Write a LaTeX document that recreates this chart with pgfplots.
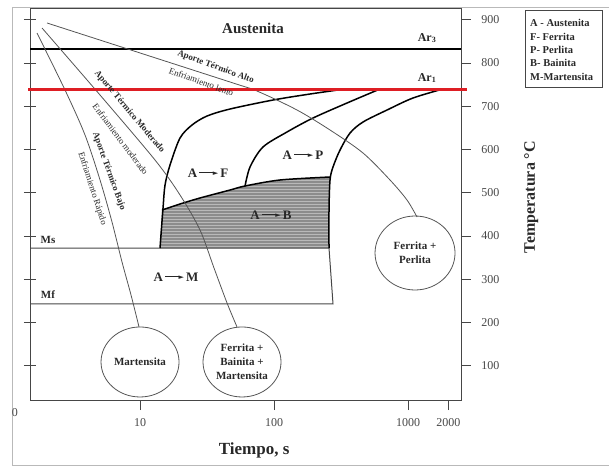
\documentclass[border=0pt]{standalone}
\usepackage{fontspec}
\setmainfont{Liberation Serif}
\newfontfamily\dejavu{DejaVu Sans}
\usepackage{pgfplots}
\pgfplotsset{compat=1.18}
\usetikzlibrary{patterns}
\definecolor{redline}{RGB}{222,30,36}
\definecolor{axgray}{RGB}{70,70,70}
\definecolor{thincol}{RGB}{85,85,85}
\definecolor{shadecol}{RGB}{140,140,140}
\definecolor{shadeln}{RGB}{185,185,185}
\definecolor{txt}{RGB}{40,40,40}
\newcommand{\arr}{\mbox{\rule[4pt]{15pt}{1.1pt}\kern-1.5pt\raisebox{1.6pt}{\dejavu\fontsize{7}{7}\selectfont ►}}}
\begin{document}
\begin{tikzpicture}
\draw[gray!55, line width=0.8pt] (609pt,459pt) -- (12pt,459pt) -- (12pt,1pt) -- (609pt,1pt);
% left-side ticks (no labels)
\begin{axis}[
 at={(30pt,66pt)}, anchor=south west,
 scale only axis, width=431pt, height=391pt,
 xmin=0, xmax=1, ymin=20.8, ymax=924.9,
 axis x line=none, axis y line*=left,
 ytick={100,200,...,900}, yticklabels={},
 tick align=center, major tick length=12pt,
 tick style={axgray, line width=0.8pt},
 axis line style={axgray, line width=1pt},
]
\end{axis}
\begin{axis}[
 at={(30pt,66pt)}, anchor=south west,
 scale only axis, width=431pt, height=391pt,
 xmode=log, xmin=1.51, xmax=2486, ymin=20.8, ymax=924.9,
 axis line style={axgray, line width=1pt},
 xtick={10,100,1000,2000}, xticklabels={10,100,1000,2000},
 ytick={100,200,...,900},
 xtick pos=bottom, ytick pos=right,
 tick align=outside, major tick length=10pt,
 tick style={axgray, line width=0.8pt},
 xminorticks=false,
 ticklabel style={font=\fontsize{12}{14}\selectfont, text=axgray},
 /pgf/number format/assume math mode=true,
 yticklabel style={anchor=west, xshift=7pt},
 xticklabel style={yshift=-5pt},
 clip=false,
 xlabel={Tiempo, s}, ylabel={Temperatura °C},
 xlabel style={at={(axis description cs:0.52,-0.128)}, anchor=center, font=\fontsize{17}{20}\selectfont\bfseries, text=txt},
 ylabel style={at={(axis description cs:1.163,0.519)}, anchor=center, font=\fontsize{16}{19}\selectfont\bfseries, text=txt},
]
% bainite region
\addplot[draw=none, fill=shadecol, postaction={pattern=horizontal lines, pattern color=shadeln}] coordinates {(14.10,372.2)(14.59,460.1)(19.89,474.0)(28.04,487.9)(46.95,506.3)(60.75,515.6)(110.9,529.5)(261.8,536.4)(257.3,460.1)(257.3,372.2)(14.10,372.2)};
% Ar3
\addplot[black, line width=1.2pt] coordinates {(1.51,832.4)(2486,832.4)};
% Ms-Mf box
\addplot[axgray, line width=1pt] coordinates {(1.51,372.2)(257.3,372.2)(275.6,242.8)(1.51,242.8)};
% ferrite start
\addplot[black, line width=1.5pt, smooth] coordinates {(14.10,372.2)(14.85,464.7)(15.37,517.9)(16.75,564.2)(19.89,626.6)(24.43,656.6)(31.62,677.4)(46.95,693.6)(98.3,714.4)(185.6,728.3)(338.8,739.9)};
% pearlite start
\addplot[black, line width=1.5pt, smooth] coordinates {(60.75,515.0)(66.22,559.5)(82.78,605.8)(125.0,640.5)(195.4,672.8)(350.6,707.5)(618.0,739.9)};
% bainite top
\addplot[black, line width=1.5pt, smooth] coordinates {(14.59,460.1)(19.89,474.0)(28.04,487.9)(46.95,506.3)(60.75,515.6)(110.9,529.5)(261.8,536.4)};
% finish curve
\addplot[black, line width=1.5pt, smooth] coordinates {(1825,739.9)(1090,719.1)(697,691.3)(461.6,663.6)(369.2,638.1)(310.9,598.8)(275.6,559.5)(261.8,529.5)(257.3,460.1)(257.3,372.2)};
% cooling curves
\addplot[thincol, line width=0.8pt, smooth] coordinates {(2.023,892.5)(46.95,756.1)(74.67,735.2)(148.5,691.3)(261.8,645.1)(461.6,591.9)(734.0,529.5)(982.9,483.2)(1167,443.9)};
\addplot[thincol, line width=0.8pt, smooth] coordinates {(1.857,880.9)(5.03,726.0)(12.94,575.7)(19.89,494.8)(28.04,413.9)(35.66,326.0)(44.61,245.1)(52.96,189.6)};
\addplot[thincol, line width=0.8pt, smooth] coordinates {(1.703,869.3)(2.756,737.6)(3.887,633.5)(5.03,529.5)(6.18,432.4)(7.34,339.9)(8.567,263.6)(9.83,189.6)};
% red line
\addplot[redline, line width=3pt] coordinates {(1.459,739.9)(2754,739.9)};
% circles
\draw[thincol, line width=0.8pt] (axis cs:10,108.7) ellipse [x radius=39pt, y radius=35pt];
\draw[thincol, line width=0.8pt] (axis cs:57.7,108.7) ellipse [x radius=39pt, y radius=35pt];
\draw[thincol, line width=0.8pt] (axis cs:1128,360.7) ellipse [x radius=40pt, y radius=37pt];
\begin{scope}[every node/.style={text=txt, font=\fontsize{11}{14}\selectfont\bfseries, align=center}]
\node at (axis cs:10,108.7) {Martensita};
\node at (axis cs:57.7,108.7) {Ferrita +\\Bainita +\\Martensita};
\node at (axis cs:1128,360.7) {Ferrita +\\Perlita};
\node[font=\fontsize{15}{18}\selectfont\bfseries] at (axis cs:69.7,880.9) {Austenita};
\node[font=\fontsize{12}{14}\selectfont\bfseries] at (axis cs:1386.6,857.8) {Ar\textsubscript{3}};
\node[font=\fontsize{12}{14}\selectfont\bfseries] at (axis cs:1386.6,765.3) {Ar\textsubscript{1}};
\node at (axis cs:2.058,390.7) {Ms};
\node at (axis cs:2.058,263.6) {Mf};
\node[font=\fontsize{13}{15}\selectfont\bfseries] at (axis cs:32.18,545.7) {A\,\arr\,F};
\node[font=\fontsize{13}{15}\selectfont\bfseries] at (axis cs:164.6,587.3) {A\,\arr\,P};
\node[font=\fontsize{13}{15}\selectfont\bfseries] at (axis cs:94.98,448.5) {A\,\arr\,B};
\node[font=\fontsize{13}{15}\selectfont\bfseries] at (axis cs:18.56,305.2) {A\,\arr\,M};
\node[rotate=-20, inner sep=0pt, font=\fontsize{9}{10}\selectfont\bfseries] at (axis cs:36.7,790.4) {Aporte Térmico Alto};
\node[rotate=-20, inner sep=0pt, font=\fontsize{9}{10}\selectfont] at (axis cs:28.68,756.3) {Enfriamiento lento};
\node[rotate=-50, inner sep=0pt, font=\fontsize{9}{10}\selectfont\bfseries] at (axis cs:8.35,687.4) {Aporte Térmico Moderado};
\node[rotate=-53, inner sep=0pt, font=\fontsize{9}{10}\selectfont] at (axis cs:7.155,623.6) {Enfriamiento moderado};
\node[rotate=-70, inner sep=0pt, font=\fontsize{9}{10}\selectfont\bfseries] at (axis cs:5.86,549.6) {Aporte Térmico Bajo};
\node[rotate=-72, inner sep=0pt, font=\fontsize{9}{10}\selectfont] at (axis cs:4.39,509.4) {Enfriamiento Rápido};
\end{scope}
\end{axis}
\node[text=axgray, font=\fontsize{12}{14}\selectfont] at (15pt,53pt) {0};
\draw[axgray, line width=0.8pt] (525pt,456pt) rectangle (602pt,379pt);
\begin{scope}[every node/.style={anchor=west, inner sep=0pt, text=txt, font=\fontsize{10.5}{12}\selectfont\bfseries}]
\node at (530pt,443pt) {A - Austenita};
\node at (530pt,429pt) {F- Ferrita};
\node at (530pt,416pt) {P- Perlita};
\node at (530pt,403pt) {B- Bainita};
\node at (530pt,389pt) {M-Martensita};
\end{scope}
\pgfresetboundingbox
\path (0pt,0pt) rectangle (610pt,466pt);
\end{tikzpicture}
\end{document}
